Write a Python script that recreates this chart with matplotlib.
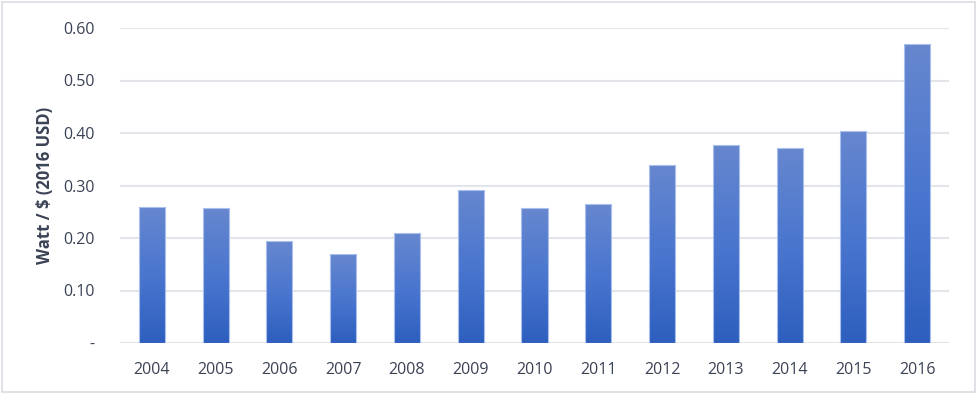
import numpy as np
import matplotlib.pyplot as plt
from matplotlib.colors import LinearSegmentedColormap
from matplotlib.patches import Rectangle

years = ['2004', '2005', '2006', '2007', '2008', '2009', '2010',
         '2011', '2012', '2013', '2014', '2015', '2016']
watt_per_usd = [0.260, 0.257, 0.194, 0.170, 0.209, 0.291, 0.257,
                0.264, 0.340, 0.378, 0.372, 0.404, 0.569]
yticks = [0, 0.1, 0.2, 0.3, 0.4, 0.5, 0.6]
ytick_labels = ['-', '0.10', '0.20', '0.30', '0.40', '0.50', '0.60']

plt.rcParams['font.family'] = ['Open Sans', 'DejaVu Sans']
text_col = '#3a4255'

fig = plt.figure(figsize=(9.77, 3.94), dpi=100)
ax = fig.add_axes([120 / 977, 1 - 343 / 394, 829 / 977, 315 / 394])

# verlauf: oben hell, unten dunkel
cmap = LinearSegmentedColormap.from_list('grad', ['#2e5fbe', '#4a76cf', '#6787ce'])
grad = np.linspace(0, 1, 256).reshape(-1, 1)

x = np.arange(len(years))
bars = ax.bar(x, watt_per_usd, width=0.41, color='none',
              edgecolor='#a9c0ee', linewidth=0.8, zorder=3)
for b in bars:
    x0, y0 = b.get_x(), b.get_y()
    w, h = b.get_width(), b.get_height()
    im = ax.imshow(grad, cmap=cmap, origin='lower', aspect='auto',
                   extent=(x0, x0 + w, y0, y0 + h), zorder=2)
    im.set_clip_path(Rectangle((x0, y0), w, h, transform=ax.transData))

ax.set_xlim(-0.5, len(years) - 0.5)
ax.set_ylim(0, 0.6)
ax.set_xticks(x)
ax.set_xticklabels(years)
ax.set_yticks(yticks)
ax.set_yticklabels(ytick_labels)
ax.grid(axis='y', color='#e2e5ea', linewidth=1.5, zorder=0)
ax.set_axisbelow(True)
for s in ax.spines.values():
    s.set_visible(False)
ax.tick_params(length=0, labelsize=11.5, colors=text_col)
ax.tick_params(axis='x', pad=14)
ax.tick_params(axis='y', pad=18)
ax.set_ylabel('Watt / $ (2016 USD)', fontsize=12, fontweight='bold',
              color=text_col, labelpad=0)
ax.yaxis.set_label_coords(-66 / 829, 0.5)

fig.patches.append(Rectangle((0.002, 0.004), 0.996, 0.992, transform=fig.transFigure,
                             fill=False, edgecolor='#d9dce1', linewidth=1.2))

fig.savefig('out.png', dpi=100)
